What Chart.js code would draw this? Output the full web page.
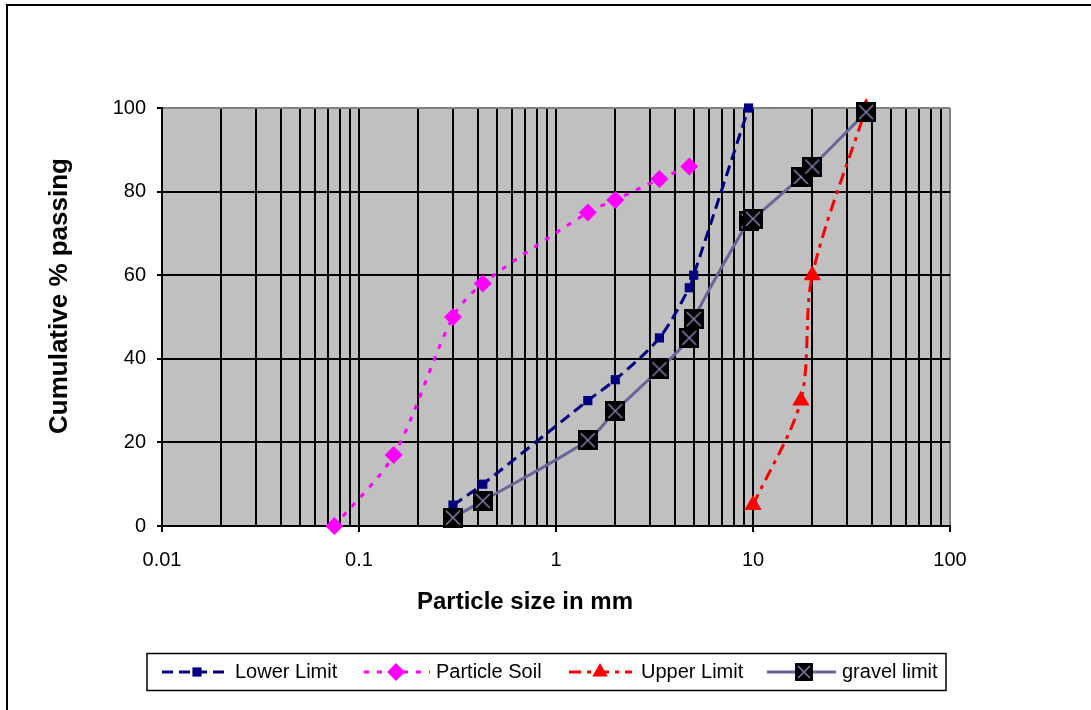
<!DOCTYPE html>
<html>
<head>
<meta charset="utf-8">
<script src="https://cdn.jsdelivr.net/npm/chart.js@4"></script>
<style>
  body { margin: 0; background: #fff; }
  canvas { display: block; }
</style>
</head>
<body>
<canvas id="myChart" width="1091" height="710"></canvas>
<script>
const FONT = "'Liberation Sans', Arial, sans-serif";

// sieve sizes (mm) and % passing
const lowerSize = [0.3, 0.425, 1.45, 2, 3.35, 4.75, 5, 9.5];
const lowerPass = [5, 10, 30, 35, 45, 57, 60, 100];

const soilSize = [0.075, 0.15, 0.3, 0.425, 1.45, 2, 3.35, 4.75];
const soilPass = [0, 17, 50, 58, 75, 78, 83, 86];

const upperSize = [10, 17.5, 20, 37.5];
const upperPass = [5, 30, 60, 100];

const gravelSize = [0.3, 0.425, 1.45, 2, 3.35, 4.75, 5, 9.5, 10, 17.5, 20, 37.5];
const gravelPass = [2, 6, 20.5, 27.5, 37.5, 45, 49.5, 73, 73.5, 83.5, 86, 99];

const xTickValues = [0.01, 0.1, 1, 10, 100];
const xTickLabels = ['0.01', '0.1', '1', '10', '100'];
const yTicks = [0, 20, 40, 60, 80, 100];

// 1..9 x 10^n grid lines of the log axis
const xGrid = [];
for (let e = -2; e < 2; e++) {
  for (let s = 1; s <= 9; s++) xGrid.push(Number((s * Math.pow(10, e)).toPrecision(3)));
}
xGrid.push(100);

function pts(xs, ys) {
  return xs.map((x, i) => ({ x: x, y: ys[i] }));
}

// black box with an X for the gravel limit markers
function boxMarker(size) {
  const c = document.createElement('canvas');
  c.width = size; c.height = size;
  const g = c.getContext('2d');
  g.fillStyle = '#000';
  g.fillRect(0, 0, size, size);
  g.strokeStyle = '#8080b0';
  g.lineWidth = 1.5;
  g.beginPath();
  g.moveTo(3, 3); g.lineTo(size - 3, size - 3);
  g.moveTo(size - 3, 3); g.lineTo(3, size - 3);
  g.stroke();
  return c;
}
const gravelMark = boxMarker(20);
const gravelMarkSmall = boxMarker(18);

const datasets = [
  {
    label: 'gravel limit',
    data: pts(gravelSize, gravelPass),
    borderColor: '#666699',
    borderWidth: 3,
    pointStyle: gravelMark,
    legendStyle: gravelMarkSmall,
    pointRadius: 10,
    tension: 0.3,
    order: 0
  },
  {
    label: 'Upper Limit',
    data: pts(upperSize, upperPass),
    borderColor: '#ff0000',
    backgroundColor: '#ff0000',
    borderWidth: 3,
    borderDash: [12, 6, 4, 6],
    pointStyle: 'triangle',
    pointRadius: 10,
    pointBorderWidth: 0,
    tension: 0.3,
    order: 1
  },
  {
    label: 'Particle Soil',
    data: pts(soilSize, soilPass),
    borderColor: '#ff00ff',
    backgroundColor: '#ff00ff',
    borderWidth: 3,
    borderDash: [5, 8],
    pointStyle: 'rectRot',
    pointRadius: 9,
    pointBorderWidth: 0,
    tension: 0.3,
    order: 2
  },
  {
    label: 'Lower Limit',
    data: pts(lowerSize, lowerPass),
    borderColor: '#000080',
    backgroundColor: '#000080',
    borderWidth: 3,
    borderDash: [11, 6],
    pointStyle: 'rect',
    pointRadius: 6.5,
    pointBorderWidth: 0,
    tension: 0.3,
    order: 3
  }
];
datasets.forEach(d => { d.clip = false; d.fill = false; d.showLine = true; });

const frame = {
  id: 'frame',
  beforeDraw(chart) {
    const { ctx, chartArea: a } = chart;
    ctx.save();
    ctx.fillStyle = '#c0c0c0';
    ctx.fillRect(a.left, a.top, a.right - a.left, a.bottom - a.top);
    ctx.restore();
  },
  afterDraw(chart) {
    const ctx = chart.ctx;
    ctx.save();
    // outer frame (top and left edges only are in view)
    ctx.fillStyle = '#000';
    ctx.fillRect(6, 4, 1085, 2);
    ctx.fillRect(6, 4, 2, 706);

    // axis titles
    ctx.fillStyle = '#000';
    ctx.textAlign = 'center';
    ctx.textBaseline = 'middle';
    ctx.font = 'bold 24px ' + FONT;
    ctx.fillText('Particle size in mm', 525, 602);
    ctx.translate(60, 296);
    ctx.rotate(-Math.PI / 2);
    ctx.font = 'bold 26px ' + FONT;
    ctx.fillText('Cumulative % passing', 0, 0);
    ctx.restore();

    // legend
    ctx.save();
    ctx.strokeStyle = '#000';
    ctx.lineWidth = 1.5;
    ctx.strokeRect(147, 653.5, 799, 37);
    const items = [
      { label: 'Lower Limit', x0: 162, x1: 228, mx: 197, tx: 235 },
      { label: 'Particle Soil', x0: 364, x1: 430, mx: 396, tx: 436 },
      { label: 'Upper Limit', x0: 569, x1: 632, mx: 600, tx: 641 },
      { label: 'gravel limit', x0: 767, x1: 836, mx: 804, tx: 842 }
    ];
    const cy = 672;
    items.forEach(it => {
      const ds = datasets.find(d => d.label === it.label);
      ctx.save();
      ctx.strokeStyle = ds.borderColor;
      ctx.lineWidth = ds.borderWidth;
      ctx.setLineDash(ds.borderDash || []);
      ctx.beginPath();
      ctx.moveTo(it.x0, cy);
      ctx.lineTo(it.x1, cy);
      ctx.stroke();
      ctx.setLineDash([]);
      ctx.fillStyle = ds.backgroundColor || '#000';
      Chart.helpers.drawPoint(ctx, {
        pointStyle: ds.legendStyle || ds.pointStyle,
        radius: ds.pointStyle === 'triangle' ? 9 : ds.pointRadius,
        rotation: 0,
        borderWidth: 0
      }, it.mx, cy);
      ctx.restore();
      ctx.fillStyle = '#000';
      ctx.font = '20px ' + FONT;
      ctx.textAlign = 'left';
      ctx.textBaseline = 'middle';
      ctx.fillText(it.label, it.tx, cy);
    });
    ctx.restore();
  }
};

new Chart(document.getElementById('myChart'), {
  type: 'line',
  data: { datasets: datasets },
  options: {
    responsive: false,
    animation: false,
    layout: { padding: { left: 0, right: 141, top: 108, bottom: 134 } },
    plugins: {
      legend: { display: false },
      tooltip: { enabled: false }
    },
    scales: {
      x: {
        type: 'logarithmic',
        min: 0.01,
        max: 100,
        afterBuildTicks(scale) {
          scale.ticks = xGrid.map(v => ({ value: v }));
        },
        afterFit(scale) { scale.height = 50; },
        ticks: {
          autoSkip: false,
          maxRotation: 0,
          padding: 16,
          color: '#000',
          font: { family: FONT, size: 20 },
          callback(value) {
            const i = xTickValues.findIndex(v => Math.abs(v - value) < v * 1e-6);
            return i >= 0 ? xTickLabels[i] : '';
          }
        },
        grid: {
          lineWidth: 2,
          color(c) { return c.tick && c.tick.value === 100 ? '#808080' : '#000'; },
          tickLength: 6,
          tickWidth: 2,
          tickColor(c) {
            return c.tick && xTickValues.some(v => Math.abs(v - c.tick.value) < v * 1e-6) ? '#000' : 'rgba(0,0,0,0)';
          }
        },
        border: { color: '#000', width: 2 }
      },
      y: {
        min: 0,
        max: 100,
        afterBuildTicks(scale) {
          scale.ticks = yTicks.map(v => ({ value: v }));
        },
        afterFit(scale) { scale.width = 162; },
        ticks: {
          padding: 11,
          color: '#000',
          font: { family: FONT, size: 20 }
        },
        grid: {
          lineWidth: 2,
          color(c) { return c.tick && c.tick.value === 100 ? '#808080' : '#000'; },
          tickLength: 5,
          tickWidth: 2,
          tickColor: '#000'
        },
        border: { color: '#000', width: 2 }
      }
    }
  },
  plugins: [frame]
});
</script>
</body>
</html>
